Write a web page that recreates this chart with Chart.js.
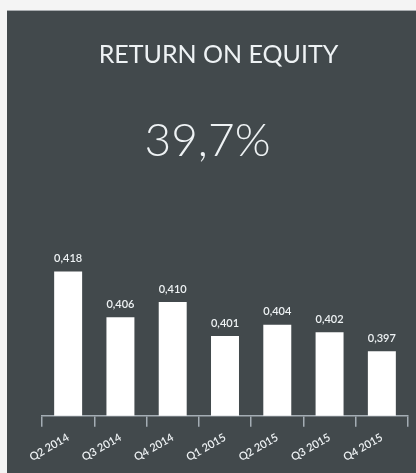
<!DOCTYPE html>
<html>
<head>
<meta charset="utf-8">
<script src="https://cdn.jsdelivr.net/npm/chart.js@4"></script>
<style>
  html, body { margin: 0; padding: 0; background: #f4f4f4; }
  #wrap { width: 416px; height: 473px; position: relative; }
</style>
</head>
<body>
<div id="wrap"><canvas id="roeChart" width="416" height="473"></canvas></div>
<script>
var quarters = ['Q2 2014', 'Q3 2014', 'Q4 2014', 'Q1 2015', 'Q2 2015', 'Q3 2015', 'Q4 2015'];
var roeValues = [0.418, 0.406, 0.410, 0.401, 0.404, 0.402, 0.397];
var headline = '39,7%';
var chartTitle = 'RETURN ON EQUITY';

var panelColor = '#42494c';
var textColor = '#eef2f4';
var axisColor = '#a4adb4';
var fontName = 'Lato, "Open Sans", sans-serif';

// paints the page, the dark card, and the title + big number
var panelPlugin = {
    id: 'panel',
    beforeDraw: function (chart) {
        var ctx = chart.ctx;
        ctx.save();
        ctx.fillStyle = '#f4f4f4';
        ctx.fillRect(0, 0, chart.width, chart.height);
        ctx.fillStyle = '#a9adb0';
        ctx.fillRect(7, 10, chart.width - 7, 1);
        ctx.fillStyle = panelColor;
        ctx.fillRect(7, 11, chart.width - 7, chart.height - 11);

        ctx.fillStyle = textColor;
        ctx.textAlign = 'center';
        ctx.textBaseline = 'alphabetic';
        ctx.font = 'normal 25px ' + fontName;
        ctx.fillText(chartTitle, 218.5, 62.5);
        ctx.font = '300 46px ' + fontName;
        ctx.fillText(headline, 207.5, 156);
        ctx.restore();
    }
};

// value labels above the bars, comma decimal
var valueLabels = {
    id: 'valueLabels',
    afterDatasetsDraw: function (chart) {
        var ctx = chart.ctx;
        var meta = chart.getDatasetMeta(0);
        ctx.save();
        ctx.fillStyle = textColor;
        ctx.font = '600 11px ' + fontName;
        ctx.textAlign = 'center';
        ctx.textBaseline = 'middle';
        meta.data.forEach(function (bar, i) {
            var txt = roeValues[i].toFixed(3).replace('.', ',');
            ctx.fillText(txt, bar.x, bar.y - 13);
        });
        ctx.restore();
    }
};

var ctx = document.getElementById('roeChart').getContext('2d');
new Chart(ctx, {
    type: 'bar',
    data: {
        labels: quarters,
        datasets: [{
            data: roeValues,
            backgroundColor: '#ffffff',
            borderWidth: 0,
            categoryPercentage: 1,
            barPercentage: 0.535
        }]
    },
    options: {
        responsive: false,
        animation: false,
        layout: {
            padding: { top: 264, left: 42, right: 8, bottom: 5 }
        },
        plugins: {
            legend: { display: false },
            tooltip: { enabled: false }
        },
        scales: {
            x: {
                offset: true,
                grid: {
                    display: true,
                    offset: true,
                    drawOnChartArea: false,
                    drawTicks: true,
                    tickLength: 11,
                    color: axisColor,
                    lineWidth: 1.5
                },
                border: { display: true, color: axisColor, width: 1.5 },
                ticks: {
                    color: textColor,
                    font: { family: fontName, size: 11, weight: '600' },
                    minRotation: 30,
                    maxRotation: 30,
                    padding: 4
                }
            },
            y: {
                display: false,
                min: 0.38,
                max: 0.42
            }
        }
    },
    plugins: [panelPlugin, valueLabels]
});
</script>
</body>
</html>
